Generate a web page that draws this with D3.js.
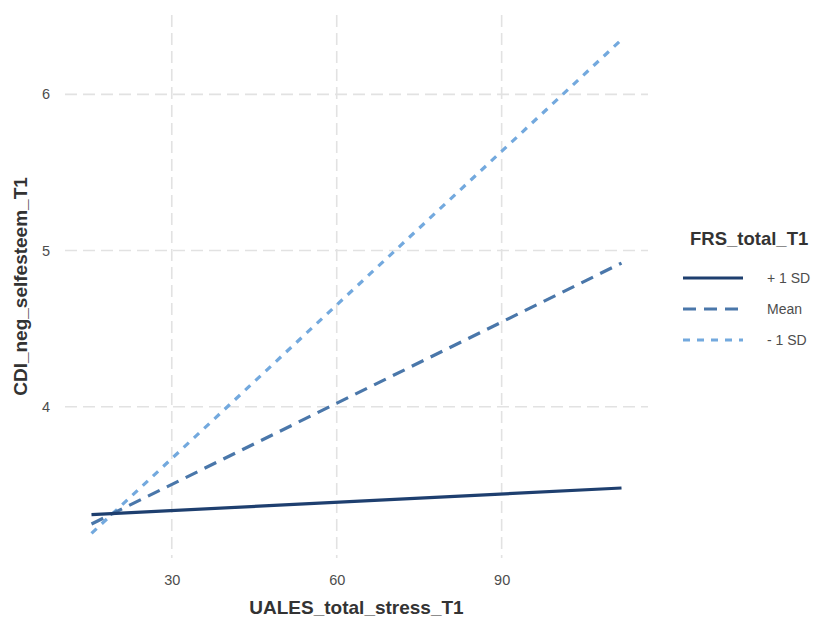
<!DOCTYPE html>
<html>
<head>
<meta charset="utf-8">
<script src="https://cdn.jsdelivr.net/npm/d3@7"></script>
<style>
  body { margin: 0; background: #fff; }
  svg { font-family: "Liberation Sans", Arial, sans-serif; }
</style>
</head>
<body>
<div id="plot"></div>
<script>
// simple slopes
const groups = ['+ 1 SD', 'Mean', '- 1 SD'];
const stress = [15.4, 111.8];
const plusSD = [3.31, 3.48];
const meanLine = [3.25, 4.92];
const minusSD = [3.19, 6.35];
const xTicks = [30, 60, 90];
const yTicks = [4, 5, 6];

const colors = ['#1e3f6f', '#4a77aa', '#73a9de'];
const dashes = [null, '13 8', '7 7'];

const W = 816, H = 619;
const svg = d3.select('#plot').append('svg')
    .attr('width', W)
    .attr('height', H);

// panel bounds
const pLeft = 65, pRight = 648, pTop = 15, pBottom = 558;

// ggplot-style 5% expansion around the data
let allY = plusSD.concat(meanLine, minusSD);
let xr = d3.extent(stress), yr = d3.extent(allY);
let xpad = (xr[1] - xr[0]) * 0.05, ypad = (yr[1] - yr[0]) * 0.05;

let x = d3.scaleLinear()
    .domain([xr[0] - xpad, xr[1] + xpad])
    .range([pLeft, pRight]);
let y = d3.scaleLinear()
    .domain([yr[0] - ypad, yr[1] + ypad])
    .range([pBottom, pTop]);

// grid lines
let grid = svg.append('g')
    .attr('stroke', '#e2e2e2')
    .attr('stroke-width', 1.6)
    .attr('stroke-dasharray', '12 6');
grid.selectAll('line.v')
    .data(xTicks)
    .enter().append('line')
    .attr('class', 'v')
    .attr('x1', d => x(d)).attr('x2', d => x(d))
    .attr('y1', pTop).attr('y2', pBottom);
grid.selectAll('line.h')
    .data(yTicks)
    .enter().append('line')
    .attr('class', 'h')
    .attr('y1', d => y(d)).attr('y2', d => y(d))
    .attr('x1', pLeft).attr('x2', pRight);

// axes (text only, like theme_minimal)
let xAxis = svg.append('g')
    .attr('transform', `translate(0,${pBottom + 12})`)
    .call(d3.axisBottom(x).tickValues(xTicks).tickFormat(d3.format('d')).tickSize(0).tickPadding(5));
let yAxis = svg.append('g')
    .attr('transform', `translate(${pLeft - 9},0)`)
    .call(d3.axisLeft(y).tickValues(yTicks).tickFormat(d3.format('d')).tickSize(0).tickPadding(6));
[xAxis, yAxis].forEach(a => {
    a.select('.domain').remove();
    a.selectAll('text')
        .attr('fill', '#4d4d4d')
        .style('font-size', '14.5px')
        .style('font-family', '"Liberation Sans", Arial, sans-serif');
});

// axis titles
svg.append('text')
    .attr('x', (pLeft + pRight) / 2)
    .attr('y', 614)
    .attr('text-anchor', 'middle')
    .attr('fill', '#333')
    .style('font-size', '19px')
    .style('font-weight', 'bold')
    .text('UALES_total_stress_T1');
svg.append('text')
    .attr('transform', `translate(27,${(pTop + pBottom) / 2}) rotate(-90)`)
    .attr('text-anchor', 'middle')
    .attr('fill', '#333')
    .style('font-size', '19px')
    .style('font-weight', 'bold')
    .text('CDI_neg_selfesteem_T1');

// the three lines
let series = [plusSD, meanLine, minusSD].map((vals, i) => ({
    name: groups[i],
    points: stress.map((s, j) => ({ s: s, v: vals[j] }))
}));
let line = d3.line()
    .x(d => x(d.s))
    .y(d => y(d.v));
// draw light ones first so the solid line sits on top
svg.selectAll('path.slope')
    .data(series.slice().reverse())
    .enter().append('path')
    .attr('class', 'slope')
    .attr('d', d => line(d.points))
    .attr('fill', 'none')
    .attr('stroke', d => colors[groups.indexOf(d.name)])
    .attr('stroke-width', 3.2)
    .attr('stroke-dasharray', d => dashes[groups.indexOf(d.name)]);

// legend
let legend = svg.append('g');
legend.append('text')
    .attr('x', 690)
    .attr('y', 245)
    .attr('fill', '#333')
    .style('font-size', '18.5px')
    .style('font-weight', 'bold')
    .text('FRS_total_T1');
let items = legend.selectAll('g.item')
    .data(groups)
    .enter().append('g')
    .attr('class', 'item')
    .attr('transform', (d, i) => `translate(0,${278 + i * 31})`);
items.append('line')
    .attr('x1', 683).attr('x2', 743)
    .attr('stroke', (d, i) => colors[i])
    .attr('stroke-width', 3.2)
    .attr('stroke-dasharray', (d, i) => dashes[i]);
items.append('text')
    .attr('x', 767)
    .attr('y', 5)
    .attr('fill', '#4d4d4d')
    .style('font-size', '14px')
    .text(d => d);
</script>
</body>
</html>
